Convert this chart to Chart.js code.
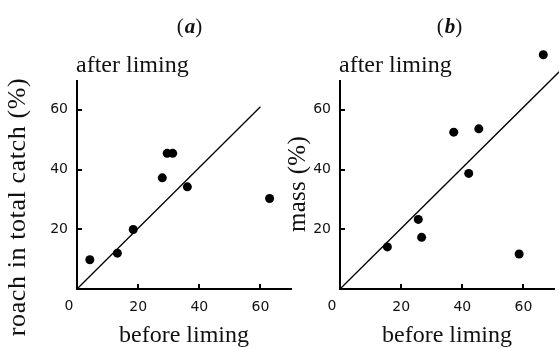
<!DOCTYPE html>
<html>
<head>
<meta charset="utf-8">
<script src="https://cdn.jsdelivr.net/npm/chart.js@4.4.1/dist/chart.umd.min.js"></script>
<style>
    html, body { margin: 0; padding: 0; background: #fff; }
    #wrap { position: relative; width: 559px; height: 348px; overflow: hidden; }
    #wrap canvas { position: absolute; left: 0; top: 0; }
</style>
</head>
<body>
<div id="wrap">
    <canvas id="chartA" width="559" height="348"></canvas>
    <canvas id="chartB" width="559" height="348"></canvas>
</div>
<script>
// panel (a): roach in total catch (%)
const beforeA = [4.2, 13.2, 18.4, 27.9, 29.5, 31.3, 36.1, 63.0];
const afterA = [9.8, 12.0, 19.9, 37.2, 45.4, 45.4, 34.2, 30.3];
const lineA = [{ x: 0, y: 0 }, { x: 60, y: 61 }];

// panel (b): mass (%)
const beforeB = [15.5, 25.6, 26.7, 37.2, 45.4, 42.1, 58.6, 66.5];
const afterB = [14.1, 23.3, 17.3, 52.5, 53.6, 38.7, 11.7, 78.4];
const lineB = [{ x: 0, y: 0 }, { x: 72, y: 73 }];

const tickVals = [20, 40, 60];
const axisMax = 70;   // drawn length of both axes
const yRoom = 80;     // y scale goes a bit higher so the (b) outlier still gets drawn

const SERIF = '"Liberation Serif", "Times New Roman", serif';
const SANS = '"DejaVu Sans", sans-serif';

// y axis line (0..70) and inward tick marks
const axisMarks = {
    id: 'axisMarks',
    afterDraw(chart) {
        const { ctx, chartArea, scales } = chart;
        const x0 = chartArea.left;
        ctx.save();
        ctx.strokeStyle = '#000';
        ctx.lineWidth = 2;
        ctx.beginPath();
        ctx.moveTo(x0, chartArea.bottom + 1);
        ctx.lineTo(x0, Math.round(scales.y.getPixelForValue(axisMax)));
        tickVals.forEach(v => {
            const x = Math.round(scales.x.getPixelForValue(v));
            ctx.moveTo(x, chartArea.bottom);
            ctx.lineTo(x, chartArea.bottom - 5);
            const y = Math.round(scales.y.getPixelForValue(v));
            ctx.moveTo(x0, y);
            ctx.lineTo(x0 + 5, y);
        });
        ctx.stroke();
        ctx.restore();
    }
};

// panel letter, axis captions and the lone "0"
const panelText = {
    id: 'panelText',
    afterDraw(chart, args, opts) {
        const { ctx, chartArea, scales } = chart;
        ctx.save();
        ctx.fillStyle = '#111';

        // (a) / (b)
        ctx.textBaseline = 'alphabetic';
        ctx.textAlign = 'left';
        ctx.font = '21px ' + SERIF;
        const p1 = ctx.measureText('(').width;
        ctx.font = 'italic bold 21px ' + SERIF;
        const p2 = ctx.measureText(opts.letter).width;
        ctx.font = '21px ' + SERIF;
        const p3 = ctx.measureText(')').width;
        let px = opts.letterX - (p1 + p2 + p3) / 2;
        ctx.fillText('(', px, 33);
        ctx.font = 'italic bold 21px ' + SERIF;
        ctx.fillText(opts.letter, px + p1 + 1, 33);
        ctx.font = '21px ' + SERIF;
        ctx.fillText(')', px + p1 + p2 + 1, 33);

        // after liming (above the y axis)
        ctx.font = '24px ' + SERIF;
        ctx.fillText(opts.top, chartArea.left - 1, 72);

        // before liming (under the x axis)
        ctx.textAlign = 'center';
        ctx.fillText(opts.bottom, (chartArea.left + chartArea.right) / 2, 342);

        // y title
        ctx.save();
        ctx.translate(opts.yTitleX, opts.yTitleY);
        ctx.rotate(-Math.PI / 2);
        ctx.font = opts.yTitleSize + 'px ' + SERIF;
        ctx.letterSpacing = opts.yTitleSpacing + 'px';
        ctx.fillText(opts.yTitle, 0, 0);
        ctx.restore();

        // origin label
        ctx.font = '14px ' + SANS;
        ctx.textBaseline = 'middle';
        ctx.fillText('0', scales.x.getPixelForValue(0) - 8, 306);
        ctx.restore();
    }
};

function makeChart(id, xs, ys, line, left, right, text) {
    const points = xs.map((x, i) => ({ x: x, y: ys[i] }));
    return new Chart(document.getElementById(id), {
        type: 'scatter',
        data: {
            datasets: [
                {
                    data: points,
                    backgroundColor: '#000',
                    borderWidth: 0,
                    pointRadius: 4.5,
                    clip: false
                },
                {
                    data: line,
                    showLine: true,
                    borderColor: '#000',
                    borderWidth: 1.3,
                    pointRadius: 0,
                    clip: false
                }
            ]
        },
        options: {
            responsive: false,
            animation: false,
            devicePixelRatio: 1,
            layout: { padding: { left: left, right: right, top: 50, bottom: 0 } },
            plugins: {
                legend: { display: false },
                tooltip: { enabled: false },
                panelText: text
            },
            scales: {
                x: {
                    type: 'linear',
                    min: 0,
                    max: axisMax,
                    afterBuildTicks: s => { s.ticks = tickVals.map(v => ({ value: v })); },
                    afterFit: s => { s.height = 59; },
                    grid: { display: false, drawTicks: false },
                    border: { display: true, color: '#000', width: 2 },
                    ticks: { color: '#111', padding: 10, font: { family: SANS, size: 14 } }
                },
                y: {
                    type: 'linear',
                    min: 0,
                    max: yRoom,
                    afterBuildTicks: s => { s.ticks = tickVals.map(v => ({ value: v })); },
                    afterFit: s => { s.width = 77; },
                    grid: { display: false, drawTicks: false },
                    border: { display: false },
                    ticks: { color: '#111', padding: 9, font: { family: SANS, size: 14 } }
                }
            }
        },
        plugins: [axisMarks, panelText]
    });
}

makeChart('chartA', beforeA, afterA, lineA, 0, 268, {
    letter: 'a', letterX: 189,
    top: 'after liming', bottom: 'before liming',
    yTitle: 'roach in total catch (%)', yTitleX: 25, yTitleY: 207,
    yTitleSize: 26, yTitleSpacing: 0.6
});

makeChart('chartB', beforeB, afterB, lineB, 263, 5, {
    letter: 'b', letterX: 449,
    top: 'after liming', bottom: 'before liming',
    yTitle: 'mass (%)', yTitleX: 305, yTitleY: 184,
    yTitleSize: 25, yTitleSpacing: 0.3
});
</script>
</body>
</html>
